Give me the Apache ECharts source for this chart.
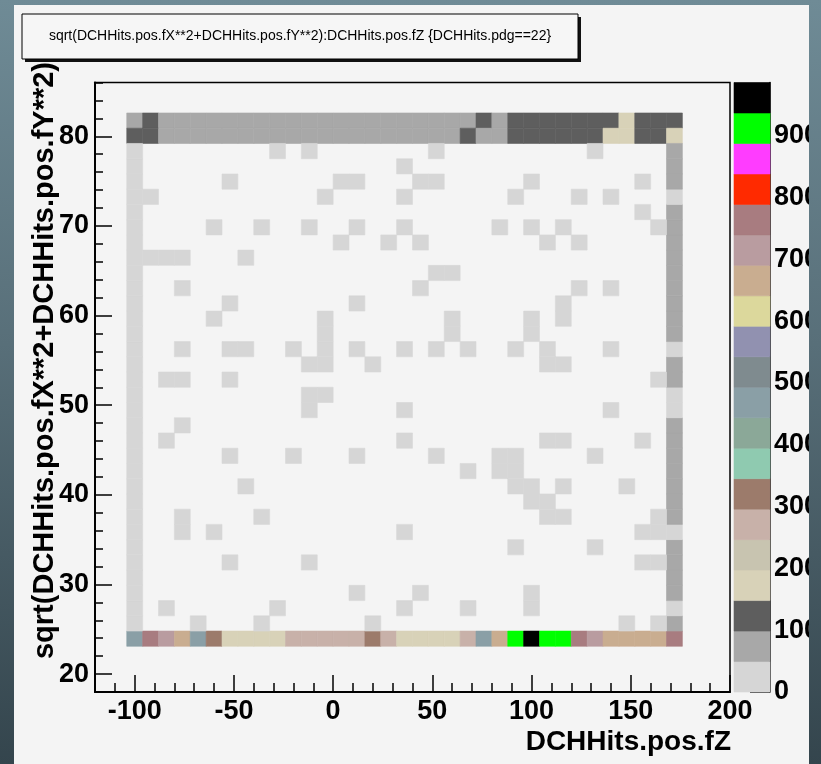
<!DOCTYPE html>
<html>
<head>
<meta charset="utf-8">
<script src="https://cdn.jsdelivr.net/npm/echarts@6/dist/echarts.min.js"></script>
<style>
  html, body { margin: 0; padding: 0; width: 821px; height: 764px; overflow: hidden;
    background: linear-gradient(to bottom, #6f8b96 0%, #586f79 45%, #34454d 100%); }
  #chart { position: absolute; left: 14px; top: 5px; width: 795px; height: 759px; background: #f4f4f4; }
</style>
</head>
<body>
<div id="chart"></div>
<script>
// ---- histogram definition: 40 x 40 bins ----
const xRange = [-120, 200];
const yRange = [18, 86];
const nBinsX = 40;
const nBinsY = 40;
const firstBinX = 2;   // first filled x bin
const firstBinY = 3;   // first filled y bin
const zMax = 986;

// colour levels of the z palette (20 contours, low -> high)
const paletteColors = [
  '#d6d6d6', '#a8a8a8', '#5e5e5e', '#d8d2b8', '#c8c4b0',
  '#c8b1a9', '#9c7b6b', '#8fcab0', '#8ba898', '#8a9fa6',
  '#7f8b8f', '#9191b0', '#dcd89c', '#c9ad90', '#b99ca0',
  '#a87c80', '#ff2a00', '#ff3cff', '#00ff00', '#000000'
];

const xTickValues = [-100, -50, 0, 50, 100, 150, 200];
const yTickValues = [20, 30, 40, 50, 60, 70, 80];
const zTickValues = [0, 100, 200, 300, 400, 500, 600, 700, 800, 900];

// counts along the outer rows/columns of the filled region
const bottomRow = [465, 768, 715, 660, 470, 318, 175, 168, 180, 172, 265, 272, 260, 268, 275,
  322, 270, 176, 170, 182, 168, 262, 460, 668, 905, 986, 912, 920, 770, 718, 662, 670, 658, 665, 772];
const topRow = [75, 120, 72, 80, 68, 77, 84, 71, 79, 66, 82, 74, 88, 70, 76, 81, 73, 69, 85, 78,
  72, 80, 110, 90, 125, 131, 118, 127, 122, 129, 120, 160, 130, 126, 133];
const secondRow = [105, 115, 70, 78, 83, 67, 75, 81, 72, 86, 74, 79, 68, 77, 84, 71, 80, 73, 76, 82,
  69, 102, 78, 88, 121, 128, 117, 124, 130, 119, 155, 170, 126, 132, 150];
const leftColumn = [22, 31, 18, 27, 35, 24, 29, 20, 33, 26, 19, 30, 25, 28, 21, 34,
  23, 27, 32, 18, 26, 29, 24, 31, 20, 28, 25, 33, 22, 30, 27, 24];
const rightColumn = [72, 28, 66, 81, 77, 69, 31, 74, 88, 63, 79, 71, 84, 67, 35, 26,
  73, 82, 33, 91, 68, 76, 85, 64, 79, 72, 80, 70, 34, 75, 83, 78];

// isolated hits inside the region: [column, row, count]
const sparseHits = [
  [9,32,2],[11,32,1],[19,32,1],[29,32,2],
  [17,31,1],
  [6,30,1],[13,30,2],[14,30,1],[18,30,1],[19,30,2],[25,30,1],[32,30,1],
  [1,29,1],[12,29,1],[17,29,2],[24,29,1],[28,29,1],[30,29,1],
  [32,28,2],
  [5,27,1],[8,27,1],[11,27,2],[14,27,1],[17,27,1],[23,27,1],[25,27,2],[27,27,1],[33,27,1],
  [13,26,1],[16,26,1],[18,26,2],[26,26,1],[28,26,1],
  [1,25,2],[2,25,1],[3,25,1],[7,25,1],
  [19,24,1],[20,24,2],
  [3,23,1],[18,23,1],[28,23,2],[30,23,1],
  [6,22,1],[14,22,1],[27,22,2],
  [5,21,1],[12,21,1],[20,21,2],[25,21,1],[27,21,1],
  [12,20,2],[20,20,1],[25,20,1],
  [3,19,1],[6,19,2],[7,19,1],[10,19,1],[12,19,1],[14,19,1],[17,19,2],[19,19,1],[21,19,1],[24,19,1],[26,19,1],[30,19,1],
  [11,18,1],[12,18,2],[15,18,1],[26,18,1],[27,18,1],
  [2,17,1],[3,17,2],[6,17,1],[33,17,1],
  [11,16,2],[12,16,1],
  [11,15,1],[17,15,1],[30,15,2],
  [3,14,1],
  [2,13,1],[17,13,1],[26,13,2],[27,13,1],[32,13,1],
  [6,12,1],[10,12,1],[14,12,2],[19,12,1],[23,12,1],[24,12,1],[29,12,1],
  [21,11,1],[23,11,2],[24,11,1],
  [7,10,1],[24,10,1],[25,10,1],[27,10,2],[31,10,1],
  [25,9,1],[26,9,1],
  [3,8,1],[8,8,1],[26,8,2],[27,8,1],[33,8,1],
  [3,7,2],[5,7,1],[17,7,1],[32,7,1],[33,7,1],
  [24,6,1],[29,6,2],
  [6,5,1],[11,5,1],[32,5,1],[33,5,2],
  [14,3,1],[18,3,2],[25,3,1],
  [2,2,1],[9,2,1],[17,2,1],[21,2,2],[25,2,1],
  [4,1,1],[8,1,2],[15,1,1],[31,1,1],[33,1,1]
];

// ---- assemble bin contents ----
const binW = (xRange[1] - xRange[0]) / nBinsX;
const binH = (yRange[1] - yRange[0]) / nBinsY;
const nCols = bottomRow.length;
const nRows = nCols;
const cells = [];
function addCell(col, row, count) {
  cells.push([xRange[0] + (firstBinX + col) * binW, yRange[0] + (firstBinY + row) * binH, count]);
}
bottomRow.forEach((v, c) => addCell(c, 0, v));
topRow.forEach((v, c) => addCell(c, nRows - 1, v));
secondRow.forEach((v, c) => addCell(c, nRows - 2, v));
leftColumn.forEach((v, r) => addCell(0, r + 1, v));
rightColumn.forEach((v, r) => addCell(nCols - 1, r + 1, v));
sparseHits.forEach(h => addCell(h[0], h[1], h[2]));

const levelStep = zMax / paletteColors.length;
function levelColor(v) {
  return paletteColors[Math.min(paletteColors.length - 1, Math.floor(v / levelStep))];
}
const paletteLevels = paletteColors.map((c, k) => [k * levelStep, (k + 1) * levelStep, k]);

const FONT = '"Liberation Sans", Arial, Helvetica, sans-serif';
const labelStyle = { color: '#000', fontFamily: FONT, fontWeight: 'bold', fontSize: 27 };

const chart = echarts.init(document.getElementById('chart'), null, { renderer: 'canvas' });
chart.setOption({
  animation: false,
  backgroundColor: '#f4f4f4',
  grid: [
    { left: 81, top: 77.5, width: 635, height: 609.5, outerBoundsMode: 'none', containLabel: false,
      show: true, borderColor: '#000', borderWidth: 1.5, backgroundColor: '#f4f4f4' },
    { left: 720, top: 77.5, width: 36, height: 609.5, outerBoundsMode: 'none', containLabel: false, show: false }
  ],
  xAxis: [
    { gridIndex: 0, type: 'value', min: xRange[0], max: xRange[1], position: 'bottom',
      axisLine: { show: true, onZero: false, lineStyle: { color: '#000', width: 2 } },
      axisTick: { show: true, inside: true, length: 17, customValues: xTickValues, lineStyle: { color: '#000', width: 1.5 } },
      axisLabel: Object.assign({ margin: 6, customValues: xTickValues }, labelStyle),
      splitLine: { show: false } },
    { gridIndex: 0, type: 'value', min: xRange[0], max: xRange[1], interval: 10, position: 'bottom',
      axisLine: { show: false, onZero: false },
      axisTick: { show: true, inside: true, length: 9, lineStyle: { color: '#000', width: 1.5 } },
      axisLabel: { show: false }, splitLine: { show: false } },
    { gridIndex: 1, type: 'value', min: 0, max: 1, show: false }
  ],
  yAxis: [
    { gridIndex: 0, type: 'value', min: yRange[0], max: yRange[1], position: 'left',
      axisLine: { show: true, onZero: false, lineStyle: { color: '#000', width: 2 } },
      axisTick: { show: true, inside: true, length: 17, customValues: yTickValues, lineStyle: { color: '#000', width: 1.5 } },
      axisLabel: Object.assign({ margin: 6, customValues: yTickValues }, labelStyle),
      splitLine: { show: false } },
    { gridIndex: 0, type: 'value', min: yRange[0], max: yRange[1], interval: 2, position: 'left',
      axisLine: { show: false, onZero: false },
      axisTick: { show: true, inside: true, length: 8, lineStyle: { color: '#000', width: 1.5 } },
      axisLabel: { show: false }, splitLine: { show: false } },
    { gridIndex: 1, type: 'value', min: 0, max: zMax, position: 'right',
      axisLine: { show: true, onZero: false, lineStyle: { color: '#000', width: 1.5 } },
      axisTick: { show: true, inside: true, length: 20, customValues: zTickValues, lineStyle: { color: '#000', width: 1.5 } },
      axisLabel: Object.assign({ margin: 4, customValues: zTickValues }, labelStyle),
      splitLine: { show: false } }
  ],
  series: [
    {
      type: 'custom', xAxisIndex: 0, yAxisIndex: 0, data: cells, clip: true,
      renderItem: function (params, api) {
        const x0 = api.value(0), y0 = api.value(1), v = api.value(2);
        const p0 = api.coord([x0, y0 + binH]);
        const p1 = api.coord([x0 + binW, y0]);
        const col = levelColor(v);
        return { type: 'rect', shape: { x: p0[0], y: p0[1], width: p1[0] - p0[0], height: p1[1] - p0[1] },
          style: { fill: col, stroke: col, lineWidth: 0.6 } };
      }
    },
    {
      type: 'custom', xAxisIndex: 2, yAxisIndex: 2, data: paletteLevels,
      renderItem: function (params, api) {
        const lo = api.value(0), hi = api.value(1), k = api.value(2);
        const p0 = api.coord([0, hi]);
        const p1 = api.coord([1, lo]);
        const col = paletteColors[k];
        return { type: 'rect', shape: { x: p0[0], y: p0[1], width: p1[0] - p0[0], height: p1[1] - p0[1] },
          style: { fill: col, stroke: col, lineWidth: 0.6 } };
      }
    }
  ],
  graphic: [
    { type: 'rect', shape: { x: 11, y: 12, width: 556, height: 45 }, style: { fill: '#111' }, z: 10 },
    { type: 'rect', shape: { x: 8, y: 9, width: 556, height: 45 }, style: { fill: '#f6f6f6', stroke: '#000', lineWidth: 1 }, z: 11 },
    { type: 'text', x: 286, y: 31.5, z: 12,
      style: { text: 'sqrt(DCHHits.pos.fX**2+DCHHits.pos.fY**2):DCHHits.pos.fZ {DCHHits.pdg==22}',
        fill: '#000', font: '14px ' + FONT, align: 'center', verticalAlign: 'middle' } },
    { type: 'text', x: 31, y: 57, rotation: Math.PI / 2, z: 12,
      style: { text: 'sqrt(DCHHits.pos.fX**2+DCHHits.pos.fY**2)', fill: '#000',
        font: 'bold 29px ' + FONT, align: 'right', verticalAlign: 'middle' } },
    { type: 'text', x: 717, y: 737, z: 12,
      style: { text: 'DCHHits.pos.fZ', fill: '#000', font: 'bold 28px ' + FONT, align: 'right', verticalAlign: 'middle' } }
  ]
});
</script>
</body>
</html>
